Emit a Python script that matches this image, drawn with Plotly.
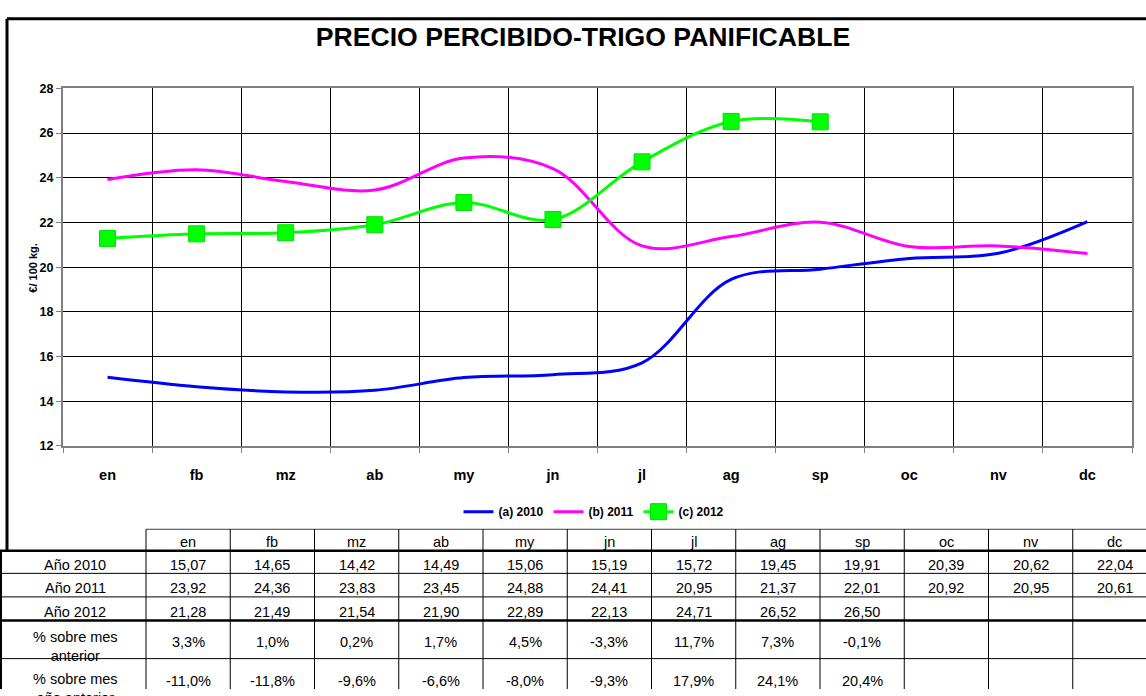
import plotly.graph_objects as go

W, H = 1146, 696

months = ["en", "fb", "mz", "ab", "my", "jn", "jl", "ag", "sp", "oc", "nv", "dc"]
y2010 = [15.07, 14.65, 14.42, 14.49, 15.06, 15.19, 15.72, 19.45, 19.91, 20.39, 20.62, 22.04]
y2011 = [23.92, 24.36, 23.83, 23.45, 24.88, 24.41, 20.95, 21.37, 22.01, 20.92, 20.95, 20.61]
y2012 = [21.28, 21.49, 21.54, 21.90, 22.89, 22.13, 24.71, 26.52, 26.50]
pct_prev_month = [3.3, 1.0, 0.2, 1.7, 4.5, -3.3, 11.7, 7.3, -0.1]
pct_prev_year = [-11.0, -11.8, -9.6, -6.6, -8.0, -9.3, 17.9, 24.1, 20.4]
y_ticks = [12, 14, 16, 18, 20, 22, 24, 26, 28]

FONT = "Arial, Liberation Sans, sans-serif"


def X(px):
    return px / W


def Y(py):
    return 1 - py / H


fig = go.Figure()
fig.add_trace(go.Scatter(x=months, y=y2010, name="<b>(a) 2010</b>", mode="lines",
                         line=dict(color="#0000FF", width=3, shape="spline", smoothing=1)))
fig.add_trace(go.Scatter(x=months, y=y2011, name="<b>(b) 2011</b>", mode="lines",
                         line=dict(color="#FF00FF", width=3, shape="spline", smoothing=1)))
fig.add_trace(go.Scatter(x=months[:len(y2012)], y=y2012, name="<b>(c) 2012</b>", mode="lines+markers",
                         line=dict(color="#00FF00", width=3, shape="spline", smoothing=1),
                         marker=dict(symbol="square", size=16, color="#00FF00",
                                     line=dict(color="#00E000", width=1))))

shapes = []
annotations = []

# chart frame
shapes.append(dict(type="line", xref="paper", yref="paper", x0=X(7), x1=X(W), y0=Y(12), y1=Y(12),
                   line=dict(color="black", width=3)))
shapes.append(dict(type="line", xref="paper", yref="paper", x0=X(7), x1=X(7), y0=Y(12), y1=Y(626),
                   line=dict(color="black", width=3)))

# table geometry
col0 = 146.0
cw = 84.25
row_edges = [533, 555, 578, 602, 626, 665, 704]
TY = 3  # vertical text offset

# table background (white)
shapes.append(dict(type="rect", xref="paper", yref="paper", x0=X(0), x1=X(W), y0=Y(555), y1=Y(H),
                   fillcolor="white", line=dict(width=0), layer="above"))
shapes.append(dict(type="rect", xref="paper", yref="paper", x0=X(col0), x1=X(W), y0=Y(533), y1=Y(555),
                   fillcolor="white", line=dict(width=0), layer="above"))

hl = [(533, col0, 1, "#404040"), (555, 0, 2.5, "black"), (578, 0, 1, "black"),
      (602, 0, 1, "black"), (626, 0, 2.5, "black"), (665, 0, 1, "black")]


def fmt2(v):
    return f"{v:.2f}".replace(".", ",")


def fmtp(v):
    return f"{v:.1f}%".replace(".", ",")


def cell(text, cx, cy):
    annotations.append(dict(text=text, xref="paper", yref="paper", x=X(cx), y=Y(cy + TY),
                            xanchor="center", yanchor="middle", showarrow=False,
                            font=dict(family=FONT, size=14.5, color="black")))


row_labels = ["Año 2010", "Año 2011", "Año 2012", "% sobre mes<br>anterior", "% sobre mes<br>año anterior"]
row_data = [[fmt2(v) for v in y2010], [fmt2(v) for v in y2011], [fmt2(v) for v in y2012],
            [fmtp(v) for v in pct_prev_month], [fmtp(v) for v in pct_prev_year]]

for i, m in enumerate(months):
    cell(m, col0 + cw * (i + 0.5), 543)
for r, (lab, vals) in enumerate(zip(row_labels, row_data)):
    top, bot = row_edges[r + 1], row_edges[r + 2]
    cy = (top + bot) / 2
    if r == 4:
        cy = 685
        cell(lab, 75, 692)
    elif r == 3:
        cell(lab, 75, 650)
    else:
        cell(lab, 75, cy)
    for i, v in enumerate(vals):
        cell(v, col0 + cw * (i + 0.5), cy)

# table lines drawn above the text so borders overlap clipped text like the reference
for py, x0, w, c in hl:
    shapes.append(dict(type="line", xref="paper", yref="paper", x0=X(x0), x1=X(W), y0=Y(py), y1=Y(py),
                       line=dict(color=c, width=w), layer="above"))
for i in range(len(months) + 1):
    px = col0 + cw * i
    if px > W:
        break
    shapes.append(dict(type="line", xref="paper", yref="paper", x0=X(px), x1=X(px), y0=Y(533), y1=Y(H),
                       line=dict(color="black", width=1), layer="above"))
shapes.append(dict(type="line", xref="paper", yref="paper", x0=X(1), x1=X(1), y0=Y(555), y1=Y(H),
                   line=dict(color="black", width=2), layer="above"))

# y axis title
annotations.append(dict(text="<b>€/ 100 kg.</b>", xref="paper", yref="paper", x=X(33), y=Y(266),
                        xanchor="center", yanchor="middle", showarrow=False, textangle=-90,
                        font=dict(family=FONT, size=11, color="black")))

fig.update_layout(
    width=W, height=H,
    margin=dict(l=0, r=0, t=0, b=0),
    paper_bgcolor="white", plot_bgcolor="white",
    font=dict(family=FONT, color="black"),
    title=dict(text="<b>PRECIO PERCIBIDO-TRIGO PANIFICABLE</b>", x=X(583), y=Y(37),
               xanchor="center", yanchor="middle", xref="paper", yref="container",
               font=dict(family=FONT, size=26.6, color="black")),
    showlegend=True,
    legend=dict(orientation="h", x=X(594), y=Y(515), xanchor="center", yanchor="middle",
                font=dict(family=FONT, size=12, color="black"), bgcolor="rgba(0,0,0,0)",
                tracegroupgap=0),
    xaxis=dict(domain=[X(63), X(1132)], type="category", categoryorder="array", categoryarray=months,
               range=[-0.5, 11.5], autorange=False,
               tickson="boundaries", showgrid=True, gridcolor="black", gridwidth=1,
               showline=True, linecolor="#808080", linewidth=2, mirror=True,
               ticks="outside", ticklen=5, tickcolor="#808080",
               tickfont=dict(family=FONT, size=14.5, color="black", weight="bold"),
               ticklabelstandoff=15, fixedrange=True),
    yaxis=dict(domain=[Y(448), Y(83)], range=[12, 28], autorange=False, tickvals=y_ticks,
               showgrid=True, gridcolor="black", gridwidth=1,
               showline=True, linecolor="#808080", linewidth=2, mirror=True,
               ticks="outside", ticklen=5, tickcolor="#808080",
               tickfont=dict(family=FONT, size=12.5, color="black", weight="bold"),
               zeroline=False, fixedrange=True),
    shapes=shapes,
    annotations=annotations,
)

fig.write_html("out.html", config={"displayModeBar": False},
               post_script="document.body.style.margin='0';document.body.style.overflow='hidden';")
